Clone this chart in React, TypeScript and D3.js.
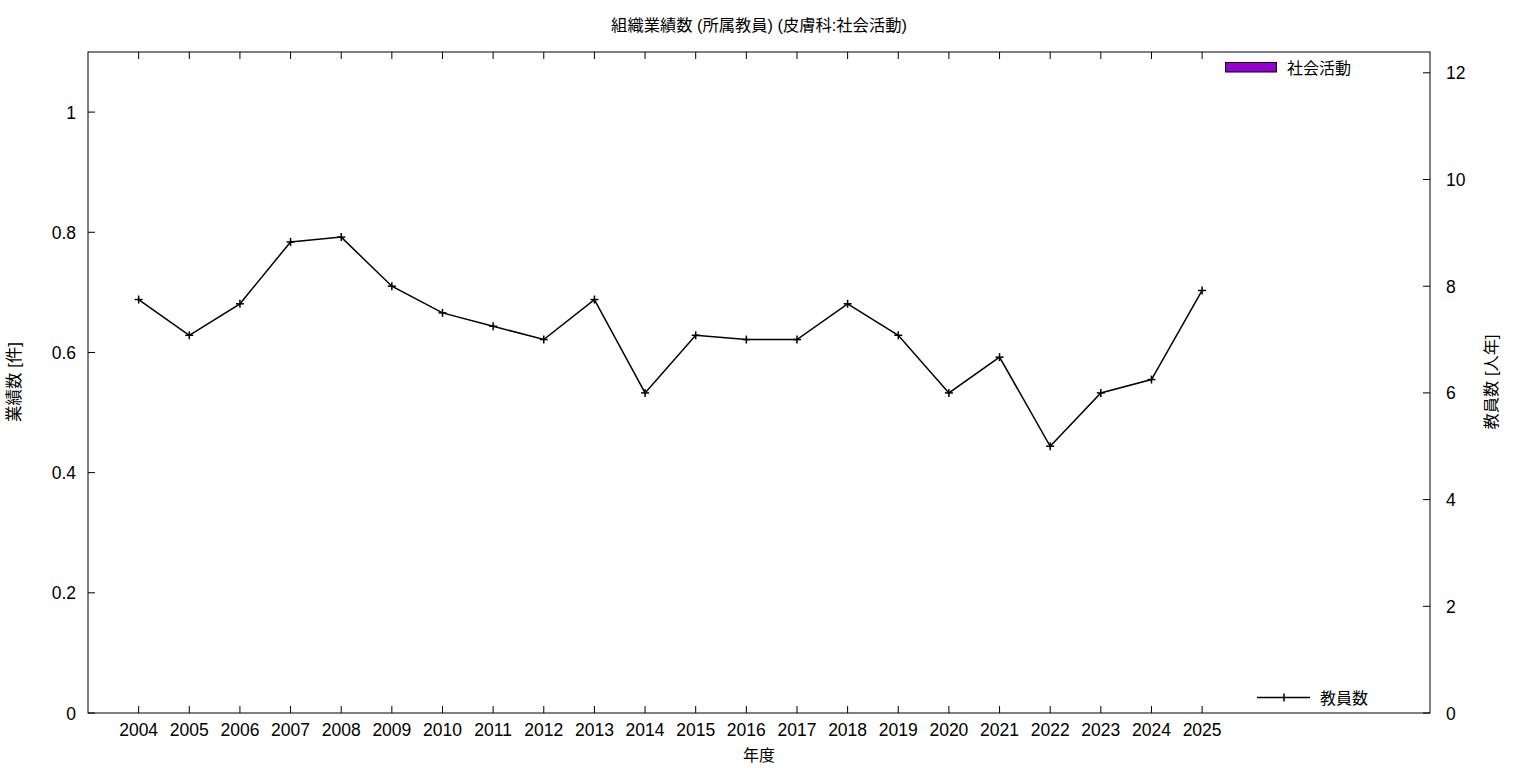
import React from "react";
import * as d3 from "d3";

const years = [2004, 2005, 2006, 2007, 2008, 2009, 2010, 2011, 2012, 2013, 2014, 2015, 2016, 2017, 2018, 2019, 2020, 2021, 2022, 2023, 2024, 2025];
const activityCounts = [0, 0, 0, 0, 0, 0, 0, 0, 0, 0, 0, 0, 0, 0, 0, 0, 0, 0, 0, 0, 0, 0];
const facultyCounts = [7.75, 7.08, 7.67, 8.83, 8.92, 8.0, 7.5, 7.25, 7.0, 7.75, 6.0, 7.08, 7.0, 7.0, 7.67, 7.08, 6.0, 6.67, 5.0, 6.0, 6.25, 7.92];
const leftTicks = [0, 0.2, 0.4, 0.6, 0.8, 1];
const rightTicks = [0, 2, 4, 6, 8, 10, 12];

const title = "組織業績数 (所属教員) (皮膚科:社会活動)";
const xLabel = "年度";
const yLabel = "業績数 [件]";
const y2Label = "教員数 [人年]";
const barName = "社会活動";
const lineName = "教員数";

const W = 1536, H = 768;
const L = 88, R = 1430, T = 52, B = 713;
const FONT = "'Liberation Sans', 'Noto Sans CJK JP', sans-serif";

export default function App() {
  const x = d3.scaleLinear().domain([2003, 2029.5]).range([L, R]);
  const y = d3.scaleLinear().domain([0, 1.1]).range([B, T]);
  const y2 = d3.scaleLinear().domain([0, 12.39]).range([B, T]);
  const line = d3.line<number>().x((_, i) => x(years[i])).y((d) => y2(d));
  const barW = 30;
  return (
    <svg width={W} height={H} style={{ position: "absolute", left: 0, top: 0 }} fontFamily={FONT}>
      <rect x={0} y={0} width={W} height={H} fill="#fff" />
      {activityCounts.map((v, i) => (
        <rect key={i} x={x(years[i]) - barW / 2} y={y(v)} width={barW} height={B - y(v)} fill="#9400d3" stroke="#000" strokeWidth={v > 0 ? 1 : 0} />
      ))}
      <rect x={L} y={T} width={R - L} height={B - T} fill="none" stroke="#000" strokeWidth={1} />
      {years.map((yr) => (
        <g key={yr}>
          <line x1={x(yr)} x2={x(yr)} y1={B} y2={B - 7} stroke="#000" />
          <line x1={x(yr)} x2={x(yr)} y1={T} y2={T + 7} stroke="#000" />
          <text x={x(yr)} y={736} textAnchor="middle" fontSize={17.5}>{yr}</text>
        </g>
      ))}
      {leftTicks.map((t) => (
        <g key={t}>
          <line x1={L} x2={L + 7} y1={y(t)} y2={y(t)} stroke="#000" />
          <text x={76} y={y(t) + 6.5} textAnchor="end" fontSize={17.5}>{t}</text>
        </g>
      ))}
      {rightTicks.map((t) => (
        <g key={t}>
          <line x1={R} x2={R - 7} y1={y2(t)} y2={y2(t)} stroke="#000" />
          <text x={1446} y={y2(t) + 6.5} textAnchor="start" fontSize={17.5}>{t}</text>
        </g>
      ))}
      <path d={line(facultyCounts) || ""} fill="none" stroke="#000" strokeWidth={1.5} />
      {facultyCounts.map((v, i) => (
        <g key={i} stroke="#000" strokeWidth={1.5}>
          <line x1={x(years[i]) - 4} x2={x(years[i]) + 4} y1={y2(v)} y2={y2(v)} />
          <line x1={x(years[i])} x2={x(years[i])} y1={y2(v) - 4} y2={y2(v) + 4} />
        </g>
      ))}
      <rect x={1225.5} y={62.5} width={51} height={9.5} fill="#9400d3" stroke="#000" strokeWidth={1} />
      <text x={1287} y={73.5} fontSize={16}>{barName}</text>
      <line x1={1257} x2={1310} y1={697.5} y2={697.5} stroke="#000" strokeWidth={1.5} />
      <line x1={1284} x2={1284} y1={693.5} y2={701.5} stroke="#000" strokeWidth={1.5} />
      <text x={1320} y={703.5} fontSize={16}>{lineName}</text>
      <text x={759} y={31} textAnchor="middle" fontSize={16.3}>{title}</text>
      <text x={759} y={761} textAnchor="middle" fontSize={16}>{xLabel}</text>
      <text transform={`translate(20,382) rotate(-90)`} textAnchor="middle" fontSize={16.5}>{yLabel}</text>
      <text transform={`translate(1497,382) rotate(-90)`} textAnchor="middle" fontSize={16.3}>{y2Label}</text>
    </svg>
  );
}
